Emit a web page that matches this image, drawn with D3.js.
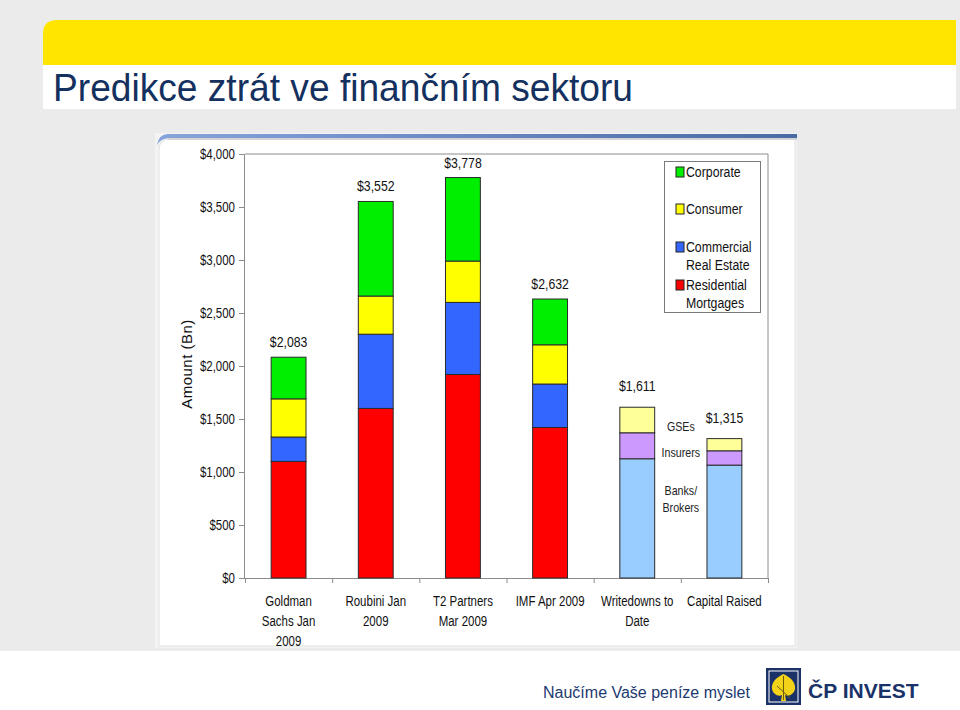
<!DOCTYPE html>
<html>
<meta charset="utf-8">
<title>Predikce ztrát ve finančním sektoru</title>
<style>
body { margin: 0; background: #ebebeb; }
svg { display: block; }
text { font-family: "Liberation Sans", Arial, sans-serif; }
.axis path, .axis line { stroke: #8c8c8c; }
.axis text { font-size: 14px; fill: #111; }
</style>
<script src="https://d3js.org/d3.v7.min.js"></script>
<body>
<script>
// categories and their wrapped tick labels
const categories = ["Goldman Sachs Jan 2009", "Roubini Jan 2009", "T2 Partners Mar 2009",
  "IMF Apr 2009", "Writedowns to Date", "Capital Raised"];
const categoryLines = [["Goldman", "Sachs Jan", "2009"], ["Roubini Jan", "2009"], ["T2 Partners", "Mar 2009"],
  ["IMF Apr 2009"], ["Writedowns to", "Date"], ["Capital Raised"]];

// loss forecasts by asset type ($ Bn)
const residential = [1100, 1600, 1920, 1420, 0, 0];
const commercial  = [230, 700, 680, 410, 0, 0];
const consumer    = [360, 360, 390, 370, 0, 0];
const corporate   = [393, 892, 788, 432, 0, 0];
// writedowns / capital raised by institution type ($ Bn)
const banks    = [0, 0, 0, 0, 1125, 1065];
const insurers = [0, 0, 0, 0, 245, 135];
const gses     = [0, 0, 0, 0, 241, 115];
const totals   = [2083, 3552, 3778, 2632, 1611, 1315];

const yTicks = [0, 500, 1000, 1500, 2000, 2500, 3000, 3500, 4000];

const seriesKeys = ["residential", "commercial", "consumer", "corporate", "banks", "insurers", "gses"];
const seriesColors = {
  residential: "#ff0000", commercial: "#3366ff", consumer: "#ffff00", corporate: "#00ee00",
  banks: "#99ccff", insurers: "#cc99ff", gses: "#ffff99"
};
const legendItems = [
  {key: "corporate", lines: ["Corporate"]},
  {key: "consumer", lines: ["Consumer"]},
  {key: "commercial", lines: ["Commercial", "Real Estate"]},
  {key: "residential", lines: ["Residential", "Mortgages"]}
];
const institutionLabels = [["GSEs"], ["Insurers"], ["Banks/", "Brokers"]];

const rows = categories.map((c, i) => ({
  category: c, residential: residential[i], commercial: commercial[i], consumer: consumer[i],
  corporate: corporate[i], banks: banks[i], insurers: insurers[i], gses: gses[i]
}));

// the chart uses a narrow face; squeeze Liberation Sans horizontally
const NARROW = 0.82;
function narrowText(parent, x, y, lines, lineHeight) {
  const t = parent.append("text").attr("transform", `translate(${x},${y}) scale(${NARROW},1)`);
  lines.forEach((line, j) => t.append("tspan").attr("x", 0).attr("dy", j ? lineHeight : 0).text(line));
  return t;
}

const W = 960, H = 710;
const svg = d3.select("body").append("svg").attr("width", W).attr("height", H);
const defs = svg.append("defs");

// slide frame
svg.append("rect").attr("width", W).attr("height", 651).attr("fill", "#ebebeb");
svg.append("rect").attr("y", 651).attr("width", W).attr("height", H - 651).attr("fill", "#fff");
svg.append("path")
  .attr("d", "M43,65 V34 Q43,20 57,20 H956 V65 Z")
  .attr("fill", "#ffe500");
svg.append("rect").attr("x", 43).attr("y", 65).attr("width", 913).attr("height", 44).attr("fill", "#fff");
svg.append("text")
  .attr("x", 53).attr("y", 101)
  .attr("font-size", 39)
  .attr("textLength", 580).attr("lengthAdjust", "spacingAndGlyphs")
  .attr("fill", "#14305e")
  .text("Predikce ztrát ve finančním sektoru");

// chart picture frame
svg.append("rect").attr("x", 155).attr("y", 133).attr("width", 642).attr("height", 515).attr("fill", "#f3f3f3");
svg.append("path")
  .attr("d", "M159,646 V150 Q159,139 170,139 H795 V646 Z")
  .attr("fill", "#fff").attr("stroke", "#e2e2e2");
const grad = defs.append("linearGradient").attr("id", "topbar");
grad.append("stop").attr("offset", "0%").attr("stop-color", "#86a3dc");
grad.append("stop").attr("offset", "100%").attr("stop-color", "#4a6aa5");
svg.append("path")
  .attr("d", "M157,145 Q159,134 168,134 H797 V138 H170 Q161,138 157,145 Z")
  .attr("fill", "url(#topbar)");
svg.append("rect").attr("x", 168).attr("y", 138).attr("width", 629).attr("height", 2).attr("fill", "#d4d4d4");

// scales
const plot = {left: 245, right: 768, top: 154, bottom: 578};
const x = d3.scaleBand().domain(categories).range([plot.left, plot.right]).paddingInner(0.6).paddingOuter(0.3);
const xEdge = d3.scaleLinear().domain([0, categories.length]).range([plot.left, plot.right]);
const y = d3.scaleLinear().domain([0, 4000]).range([plot.bottom, plot.top]);

// plot frame (top + right)
svg.append("path")
  .attr("d", `M${plot.left},${plot.top} H${plot.right} V${plot.bottom}`)
  .attr("fill", "none").attr("stroke", "#8c8c8c");

// axes
svg.append("g").attr("class", "axis")
  .attr("transform", `translate(${plot.left},0)`)
  .call(d3.axisLeft(y).tickValues(yTicks).tickSize(6).tickPadding(4)
    .tickFormat(d => "$" + d3.format(",")(d)))
  .call(g => g.select(".domain").attr("d", `M-0.5,${plot.top}V${plot.bottom}`))
  .call(g => g.selectAll(".tick text").each(function() {
    const s = d3.select(this), tx = +s.attr("x");
    s.attr("x", 0).attr("transform", `translate(${tx},0) scale(${NARROW},1)`);
  }));

const xAxis = svg.append("g").attr("class", "axis")
  .attr("transform", `translate(0,${plot.bottom})`)
  .call(d3.axisBottom(xEdge).tickValues(d3.range(categories.length + 1)).tickSize(5).tickFormat(""));
xAxis.select(".domain").attr("d", `M${plot.left},0.5H${plot.right}`);

const xl = svg.append("g").attr("font-size", 14).attr("fill", "#111").attr("text-anchor", "middle");
categories.forEach((c, i) => {
  narrowText(xl, x(c) + x.bandwidth() / 2, 606, categoryLines[i], 20);
});

svg.append("text")
  .attr("transform", `translate(192,${(plot.top + plot.bottom) / 2 - 2}) rotate(-90)`)
  .attr("text-anchor", "middle")
  .attr("font-size", 15).attr("letter-spacing", 0.5).attr("fill", "#111")
  .text("Amount (Bn)");

// stacked bars
const stacked = d3.stack().keys(seriesKeys)(rows);
const bars = svg.append("g");
stacked.forEach(series => {
  bars.append("g").attr("fill", seriesColors[series.key])
    .selectAll("rect")
    .data(series.filter(d => d[1] - d[0] > 0))
    .join("rect")
      .attr("x", d => x(d.data.category))
      .attr("width", x.bandwidth())
      .attr("y", d => y(d[1]))
      .attr("height", d => y(d[0]) - y(d[1]))
      .attr("stroke", "#2a2a2a").attr("stroke-width", 1);
});

// totals above bars
const tl = svg.append("g").attr("font-size", 15).attr("fill", "#111").attr("text-anchor", "middle");
totals.forEach((d, i) => {
  narrowText(tl, x(categories[i]) + x.bandwidth() / 2, y(d) - (i >= 4 ? 16 : 10),
    ["$" + d3.format(",")(d)], 0);
});

// institution labels between the last two bars
const wd = categories.length - 2;
const instKeys = ["gses", "insurers", "banks"];
const instOffsets = [24, 24, 36];
const il = svg.append("g").attr("font-size", 13).attr("fill", "#222").attr("text-anchor", "middle");
institutionLabels.forEach((lines, k) => {
  const s = stacked.find(v => v.key === instKeys[k])[wd];
  narrowText(il, xEdge(wd + 1), y(s[1]) + instOffsets[k], lines, 17);
});

// legend
const lg = svg.append("g").attr("font-size", 15).attr("fill", "#111");
lg.append("rect").attr("x", 664.5).attr("y", 161.5).attr("width", 96).attr("height", 151)
  .attr("fill", "#fff").attr("stroke", "#7a7a7a");
const legendY = [177, 214, 252, 290];
legendItems.forEach((item, i) => {
  lg.append("rect").attr("x", 676).attr("y", legendY[i] - 10).attr("width", 8).attr("height", 10)
    .attr("fill", seriesColors[item.key]).attr("stroke", "#222");
  narrowText(lg, 686, legendY[i], item.lines, 18.5);
});

// footer
svg.append("text")
  .attr("x", 543).attr("y", 698)
  .attr("font-family", "Open Sans, sans-serif").attr("font-size", 16)
  .attr("fill", "#1d3a70")
  .text("Naučíme Vaše peníze myslet");
const logo = svg.append("g");
logo.append("rect").attr("x", 766).attr("y", 668).attr("width", 35).attr("height", 37).attr("fill", "#1a3268");
logo.append("rect").attr("x", 769).attr("y", 671).attr("width", 29).attr("height", 31)
  .attr("fill", "#1a3268").attr("stroke", "#fff").attr("stroke-width", 1);
logo.append("path")
  .attr("d", "M783.5,674 C790,677 796,682 795,689 C794,694 789,697 785,695 L786,701 L781,701 L782,695 C778,697 773,694 772,689 C771,682 777,677 783.5,674 Z")
  .attr("fill", "#f3d21a");
logo.append("path").attr("d", "M777,686 L790,698 M783.5,676 V700").attr("stroke", "#6b5a10").attr("stroke-width", 1);
svg.append("text")
  .attr("x", 808).attr("y", 698)
  .attr("font-family", "Open Sans, sans-serif").attr("font-weight", 700).attr("font-size", 21)
  .attr("fill", "#1a3268")
  .text("ČP INVEST");
</script>
</body>
</html>
